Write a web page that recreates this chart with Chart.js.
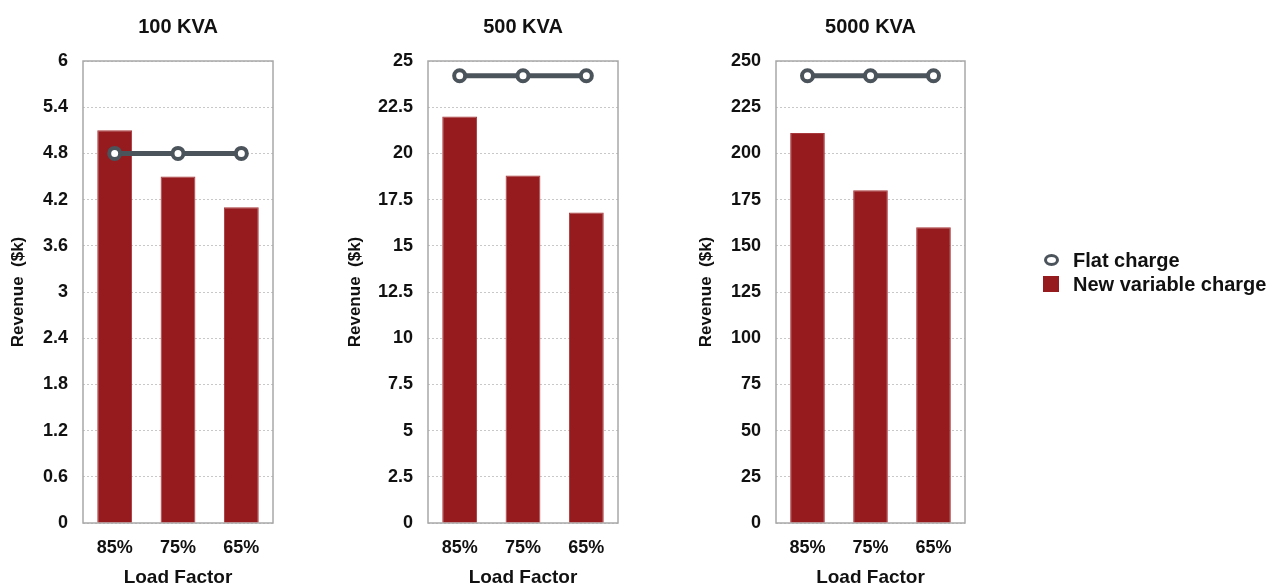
<!DOCTYPE html>
<html>
<head>
<meta charset="utf-8">
<script src="https://cdn.jsdelivr.net/npm/chart.js@4/dist/chart.umd.min.js"></script>
<style>
  body { margin: 0; background: #fff; width: 1277px; height: 586px; position: relative; overflow: hidden; font-family: "Liberation Sans", Arial, sans-serif; }
  canvas { position: absolute; top: 0; }
  #legend { position: absolute; left: 1043px; top: 248px; font-weight: bold; font-size: 20px; color: #111; }
  .row { display: flex; align-items: center; height: 24px; }
  .ring { width: 9px; height: 6px; border: 3px solid #4b535b; border-radius: 50%; margin: 0 14px 0 1px; background: #fff; }
  .sq { width: 16px; height: 16px; background: #961b1f; margin-right: 14px; }
</style>
</head>
<body>
<canvas id="c1" width="356" height="586" style="left:0px"></canvas>
<canvas id="c2" width="366" height="586" style="left:340px"></canvas>
<canvas id="c3" width="361" height="586" style="left:690px"></canvas>
<div id="legend">
  <div class="row"><span class="ring"></span>Flat charge</div>
  <div class="row"><span class="sq"></span>New variable charge</div>
</div>
<script>
const loadFactors = ['85%', '75%', '65%']

const flat100 = [4.8, 4.8, 4.8]
const variable100 = [5.1, 4.5, 4.1]
const ticks100 = [0, 0.6, 1.2, 1.8, 2.4, 3, 3.6, 4.2, 4.8, 5.4, 6]

const flat500 = [24.2, 24.2, 24.2]
const variable500 = [22, 18.8, 16.8]
const ticks500 = [0, 2.5, 5, 7.5, 10, 12.5, 15, 17.5, 20, 22.5, 25]

const flat5000 = [242, 242, 242]
const variable5000 = [211, 180, 160]
const ticks5000 = [0, 25, 50, 75, 100, 125, 150, 175, 200, 225, 250]

const FONT = '"Liberation Sans", Arial, sans-serif'
const ink = '#111'

// full box around the plot area
const frame = {
	id: 'frame',
	beforeDatasetsDraw(chart) {
		const { ctx, chartArea: a } = chart
		ctx.save()
		ctx.strokeStyle = '#a8a8a8'
		ctx.lineWidth = 1.5
		ctx.strokeRect(a.left, a.top, a.right - a.left, a.bottom - a.top)
		ctx.restore()
	}
}

const makeChart = (id, title, flat, variable, ticks, leftW, rightW, titlePad) => {
	new Chart(document.getElementById(id), {
		data: {
			labels: loadFactors,
			datasets: [
				{
					type: 'line',
					label: 'Flat charge',
					data: flat,
					borderColor: '#4b535b',
					borderWidth: 5,
					pointRadius: 5.5,
					pointBorderWidth: 4,
					pointBackgroundColor: '#fff',
					pointBorderColor: '#4b535b',
					order: 1
				},
				{
					type: 'bar',
					label: 'New variable charge',
					data: variable,
					backgroundColor: '#961b1f',
					borderColor: '#a8383b',
					borderWidth: 1,
					barPercentage: 0.55,
					categoryPercentage: 1,
					order: 2
				}
			]
		},
		options: {
			responsive: false,
			animation: false,
			layout: { padding: 0 },
			plugins: {
				legend: { display: false },
				tooltip: { enabled: false },
				title: {
					display: true,
					text: title,
					color: ink,
					font: { family: FONT, size: 20, weight: 'bold' },
					padding: { top: 15, bottom: 22 }
				}
			},
			scales: {
				x: {
					grid: { display: false },
					border: { display: false },
					ticks: { color: ink, padding: 6, font: { family: FONT, size: 18, weight: 'bold' } },
					title: {
						display: true,
						text: 'Load Factor',
						color: ink,
						font: { family: FONT, size: 19, weight: 'bold' },
						padding: { top: 0, bottom: -3 }
					},
					afterFit: (s) => { s.height = 63 }
				},
				y: {
					min: ticks[0],
					max: ticks[ticks.length - 1],
					afterBuildTicks: (s) => { s.ticks = ticks.map((v) => ({ value: v })) },
					grid: { color: '#c8c8c8', lineWidth: 1, drawTicks: false },
					border: { display: false, dash: [2, 2] },
					ticks: {
						color: ink,
						padding: 15,
						font: { family: FONT, size: 18, weight: 'bold' },
						callback: (v) => String(v)
					},
					title: {
						display: true,
						text: 'Revenue  ($k)',
						color: ink,
						font: { family: FONT, size: 17, weight: 'bold' },
						padding: { top: titlePad, bottom: 0 }
					},
					afterFit: (s) => { s.width = leftW }
				},
				pad: {
					position: 'right',
					display: true,
					grid: { display: false },
					border: { display: false },
					ticks: { display: false },
					afterFit: (s) => { s.width = rightW }
				}
			}
		},
		plugins: [frame]
	})
}

makeChart('c1', '100 KVA', flat100, variable100, ticks100, 83, 83, 8)
makeChart('c2', '500 KVA', flat500, variable500, ticks500, 88, 88, 5)
makeChart('c3', '5000 KVA', flat5000, variable5000, ticks5000, 86, 86, 6)
</script>
</body>
</html>
